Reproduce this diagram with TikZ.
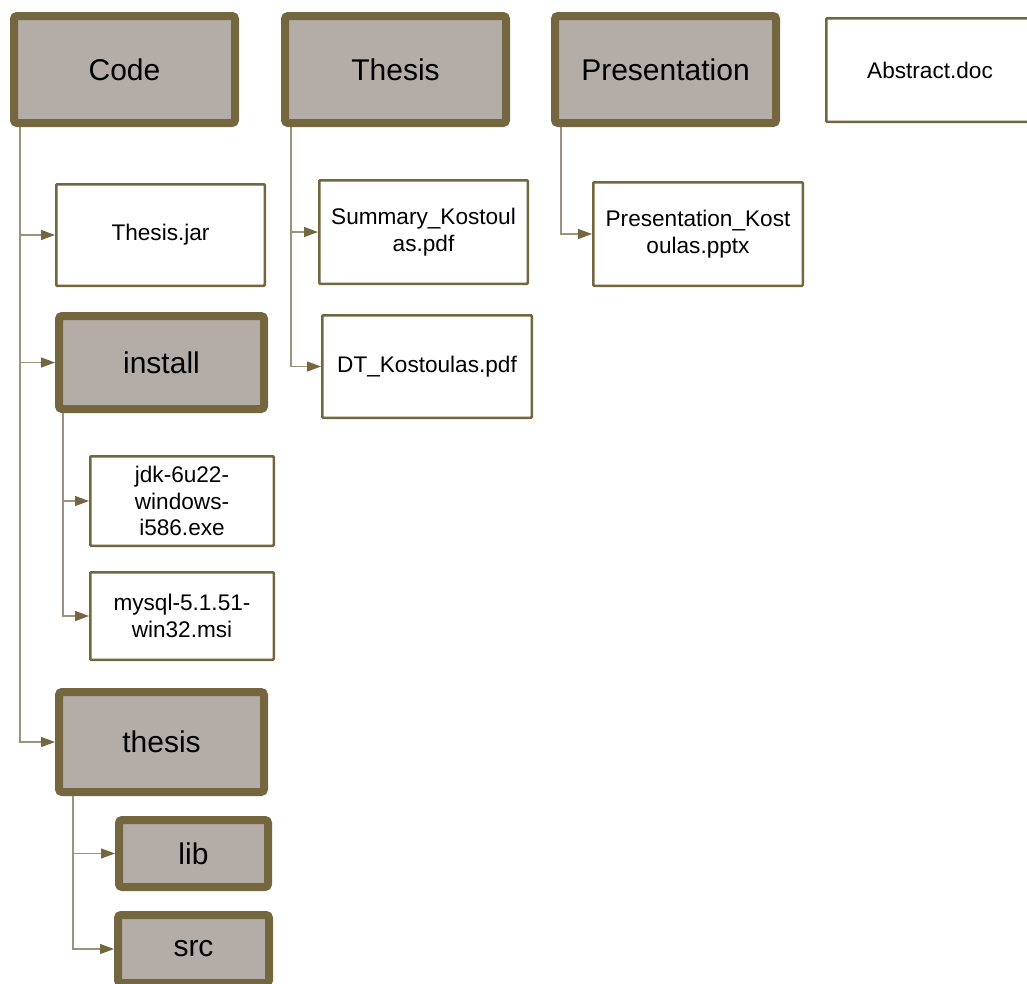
\documentclass[tikz,border=0pt]{standalone}
\usepackage{fontspec}
\setmainfont{Liberation Sans}
\usetikzlibrary{arrows.meta}
\definecolor{olive}{HTML}{74673F}
\definecolor{boxfill}{HTML}{B4ACA6}
\definecolor{conn}{HTML}{9D937A}
\tikzset{
  folder/.style={draw=olive, fill=boxfill, line width=8pt, rounded corners=3pt,
    font=\fontsize{30}{36}\selectfont, align=center, inner sep=0pt},
  file/.style={draw=olive, fill=white, line width=2.5pt, rounded corners=1pt,
    font=\fontsize{22.6}{26.5}\selectfont, align=center, inner sep=0pt},
  link/.style={draw=conn, line width=1.3pt,
    -{Triangle[length=14pt,width=10pt,color=olive,fill=olive]}},
  trunk/.style={draw=conn, line width=1.3pt}
}
\begin{document}
\begin{tikzpicture}[x=1pt,y=-1pt]
\useasboundingbox (0,0) rectangle (1027,983);
% top level
\node[folder, minimum width=221pt, minimum height=107pt] (code) at (124.5,69.5) {Code};
\node[folder, minimum width=221pt, minimum height=107pt] (thesisF) at (395.5,69.5) {Thesis};
\node[folder, minimum width=221pt, minimum height=107pt] (pres) at (665.5,69.5) {Presentation};
\node[file, minimum width=207.5pt, minimum height=103.5pt] (abs) at (930,70) {Abstract.doc};
% Code children
\node[file, minimum width=208.5pt, minimum height=101.5pt] (jar) at (160.5,235) {Thesis.jar};
\node[folder, minimum width=205pt, minimum height=93pt] (install) at (161.5,362.5) {install};
\node[file, minimum width=183.5pt, minimum height=89.5pt] (jdk) at (182,501) {jdk-6u22-\\windows-\\i586.exe};
\node[file, minimum width=183.5pt, minimum height=87.5pt] (mysql) at (182,616) {mysql-5.1.51-\\win32.msi};
\node[folder, minimum width=205pt, minimum height=100pt] (thesisD) at (161.5,742) {thesis};
\node[folder, minimum width=149pt, minimum height=67pt] (lib) at (193.5,853.5) {lib};
\node[folder, minimum width=151pt, minimum height=68pt] (src) at (193.5,949) {src};
% Thesis children
\node[file, minimum width=208.5pt, minimum height=103.5pt] (summary) at (423.5,232) {Summary\_Kostoul\\as.pdf};
\node[file, minimum width=209.5pt, minimum height=102.5pt] (dt) at (427,366.5) {DT\_Kostoulas.pdf};
% Presentation children
\node[file, minimum width=209.5pt, minimum height=103.5pt] (pk) at (698,234) {Presentation\_Kost\\oulas.pptx};
% connectors
\draw[trunk] ([xshift=10pt]code.south west) -- ([xshift=10pt]code.south west |- thesisD.west);
\draw[link] ([xshift=10pt]code.south west) |- (jar.west);
\draw[link] ([xshift=10pt]code.south west) |- (install.west);
\draw[link] ([xshift=10pt]code.south west) |- (thesisD.west);
\draw[link] ([xshift=8pt]install.south west) |- (jdk.west);
\draw[link] ([xshift=8pt]install.south west) |- (mysql.west);
\draw[link] ([xshift=18pt]thesisD.south west) |- (lib.west);
\draw[link] ([xshift=18pt]thesisD.south west) |- (src.west);
\draw[link] ([xshift=10pt]thesisF.south west) |- (summary.west);
\draw[link] ([xshift=10pt]thesisF.south west) |- (dt.west);
\draw[link] ([xshift=10pt]pres.south west) |- (pk.west);
\end{tikzpicture}
\end{document}
